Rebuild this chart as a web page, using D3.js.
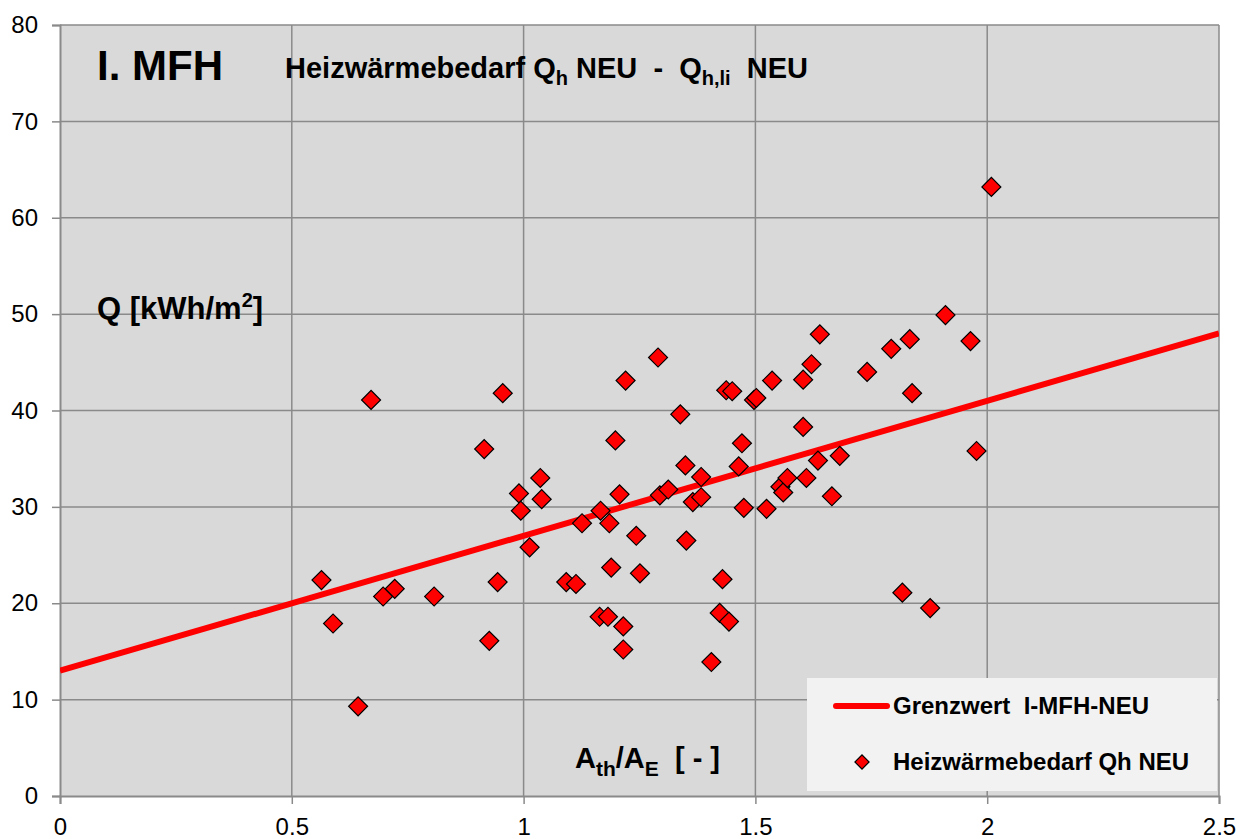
<!DOCTYPE html>
<html>
<head>
<meta charset="utf-8">
<script src="https://cdn.jsdelivr.net/npm/d3@7"></script>
<style>
  html, body { margin: 0; padding: 0; background: #ffffff; }
  svg { display: block; font-family: "Liberation Sans", Arial, sans-serif; }
  text { white-space: pre; }
</style>
</head>
<body>
<svg id="chart" width="1247" height="839"></svg>
<script>
// ---- data ----
const xValues = [0.564,0.589,0.671,0.643,0.697,0.722,0.807,0.915,0.926,0.944,0.955,0.990,0.994,1.013,1.036,1.039,1.092,1.113,1.126,1.164,1.182,1.166,1.185,1.189,1.198,1.207,1.215,1.215,1.220,1.243,1.251,1.290,1.294,1.312,1.338,1.349,1.351,1.365,1.383,1.383,1.405,1.423,1.429,1.437,1.443,1.450,1.464,1.471,1.475,1.497,1.502,1.524,1.536,1.554,1.560,1.569,1.603,1.603,1.610,1.621,1.635,1.639,1.665,1.682,1.741,1.793,1.817,1.833,1.838,1.877,1.910,1.964,1.977,2.009];
const yValues = [22.4,17.9,41.1,9.3,20.7,21.5,20.7,36.0,16.1,22.2,41.8,31.4,29.6,25.8,33.0,30.8,22.2,22.0,28.3,18.6,18.6,29.6,28.3,23.7,36.9,31.3,17.6,15.2,43.1,27.0,23.1,45.5,31.2,31.8,39.6,34.3,26.5,30.5,31.0,33.1,13.9,19.0,22.5,42.1,18.1,42.0,34.2,36.6,29.9,41.1,41.3,29.8,43.1,32.1,31.5,33.0,43.2,38.3,33.0,44.8,34.8,47.9,31.1,35.3,44.0,46.4,21.1,47.4,41.8,19.5,49.9,47.2,35.8,63.2];
const limitX = [0, 2.5];
const limitY = [13, 48];
const xTicks = [0, 0.5, 1, 1.5, 2, 2.5];
const xTickLabels = ["0", "0.5", "1", "1.5", "2", "2.5"];
const yTicks = [0, 10, 20, 30, 40, 50, 60, 70, 80];
const seriesLine = "Grenzwert  I-MFH-NEU";
const seriesPoints = "Heizwärmebedarf Qh NEU";

// ---- layout ----
const svg = d3.select("#chart");
const L = 60, R = 1219, T = 25, B = 796;
const x = d3.scaleLinear().domain([0, 2.5]).range([L, R]);
const y = d3.scaleLinear().domain([0, 80]).range([B, T]);
const gridColor = "#8a8a8a";

// plot background
svg.append("rect").attr("x", L).attr("y", T).attr("width", R - L).attr("height", B - T).attr("fill", "#d9d9d9");

// gridlines
svg.append("g").selectAll("line").data(yTicks.filter(d => d > 0)).join("line")
  .attr("x1", L).attr("x2", R).attr("y1", d => y(d)).attr("y2", d => y(d))
  .attr("stroke", gridColor).attr("stroke-width", 1.5);
svg.append("g").selectAll("line").data(xTicks.filter(d => d > 0)).join("line")
  .attr("y1", T).attr("y2", B).attr("x1", d => x(d)).attr("x2", d => x(d))
  .attr("stroke", gridColor).attr("stroke-width", 1.5);

// axes
const yAxis = d3.axisLeft(y).tickValues(yTicks).tickSize(8).tickPadding(14);
const gy = svg.append("g").attr("transform", `translate(${L},0)`).call(yAxis);
const xAxis = d3.axisBottom(x).tickValues(xTicks).tickSize(8).tickPadding(14)
  .tickFormat((d, i) => xTickLabels[i]);
const gx = svg.append("g").attr("transform", `translate(0,${B})`).call(xAxis);
[gx, gy].forEach(g => {
  g.select(".domain").attr("stroke", gridColor).attr("stroke-width", 2);
  g.selectAll(".tick line").attr("stroke", gridColor).attr("stroke-width", 1.5);
  g.selectAll(".tick text").attr("fill", "#000").attr("font-size", 24)
    .attr("font-family", "'Liberation Sans', Arial, sans-serif");
});

// clip
svg.append("clipPath").attr("id", "plotclip").append("rect")
  .attr("x", L).attr("y", T).attr("width", R - L).attr("height", B - T);

// limit line
const lineGen = d3.line().x(d => x(d[0])).y(d => y(d[1]));
svg.append("path").datum(limitX.map((v, i) => [v, limitY[i]]))
  .attr("d", lineGen).attr("fill", "none").attr("stroke", "#ff0000")
  .attr("stroke-width", 6).attr("clip-path", "url(#plotclip)");

// points
const diamond = d3.symbol(d3.symbolSquare, 180);
svg.append("g").selectAll("path").data(xValues.map((v, i) => [v, yValues[i]])).join("path")
  .attr("d", diamond)
  .attr("transform", d => `translate(${x(d[0])},${y(d[1])}) rotate(45)`)
  .attr("fill", "#ff0000").attr("stroke", "#000").attr("stroke-width", 1.2);

// titles
svg.append("text").attr("x", 97).attr("y", 80).attr("font-size", 42).attr("font-weight", "bold")
  .text("I. MFH");
const sub = svg.append("text").attr("x", 285).attr("y", 78).attr("font-size", 29).attr("font-weight", "bold");
sub.append("tspan").text("Heizwärmebedarf Q");
sub.append("tspan").attr("font-size", 20).attr("dy", 7).text("h");
sub.append("tspan").attr("dy", -7).text(" NEU  -  Q");
sub.append("tspan").attr("font-size", 20).attr("dy", 7).text("h,li");
sub.append("tspan").attr("dy", -7).text("  NEU");

// y label
const yl = svg.append("text").attr("x", 97).attr("y", 319).attr("font-size", 31).attr("font-weight", "bold");
yl.append("tspan").text("Q [kWh/m");
yl.append("tspan").attr("font-size", 20).attr("dy", -12).text("2");
yl.append("tspan").attr("dy", 12).text("]");

// x label
const xl = svg.append("text").attr("x", 575).attr("y", 768).attr("font-size", 29).attr("font-weight", "bold");
xl.append("tspan").text("A");
xl.append("tspan").attr("font-size", 21).attr("dy", 8).text("th");
xl.append("tspan").attr("dy", -8).text("/A");
xl.append("tspan").attr("font-size", 21).attr("dy", 8).text("E");
xl.append("tspan").attr("dy", -8).text("  [ - ]");

// legend
const lg = svg.append("g");
lg.append("rect").attr("x", 807).attr("y", 678).attr("width", 410).attr("height", 113).attr("fill", "#f2f2f2");
lg.append("line").attr("x1", 836).attr("x2", 887).attr("y1", 706).attr("y2", 706)
  .attr("stroke", "#ff0000").attr("stroke-width", 6).attr("stroke-linecap", "round");
lg.append("text").attr("x", 893).attr("y", 714).attr("font-size", 24).attr("font-weight", "bold").text(seriesLine);
lg.append("path").attr("d", d3.symbol(d3.symbolSquare, 100))
  .attr("transform", "translate(862,762) rotate(45)")
  .attr("fill", "#ff0000").attr("stroke", "#000").attr("stroke-width", 1.2);
lg.append("text").attr("x", 893).attr("y", 770).attr("font-size", 24).attr("font-weight", "bold").text(seriesPoints);
</script>
</body>
</html>
